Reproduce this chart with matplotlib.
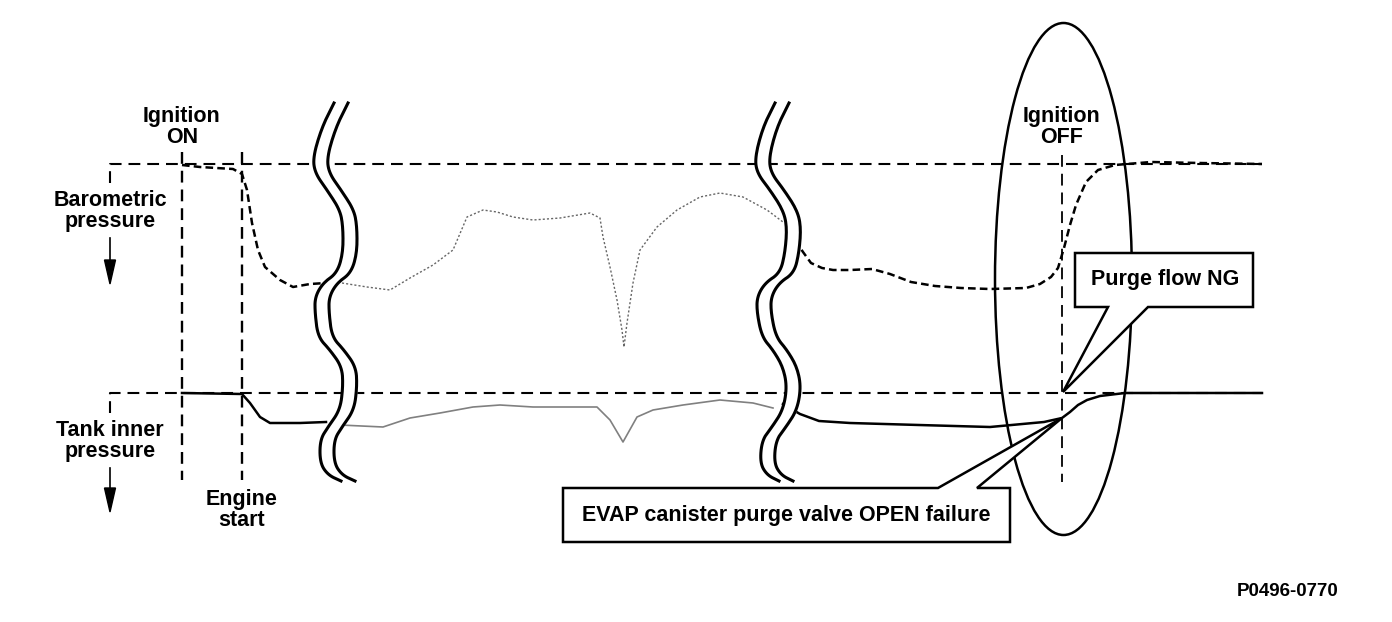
import numpy as np
import matplotlib.pyplot as plt
from matplotlib.patches import Ellipse, Polygon

plt.rcParams['font.family'] = ['Liberation Sans', 'DejaVu Sans']
plt.rcParams['lines.scale_dashes'] = False

# ─────────────────────────────────────────
# Traces (x = time, y = pressure, screen units)
# ─────────────────────────────────────────
baro_t1 = [182, 200, 233, 242, 247, 252, 258, 265, 280, 293, 310, 326]
baro_p1 = [165, 167, 169, 174, 190, 223, 250, 267, 280, 287, 284, 283]

baro_t2 = [342, 367, 390, 410, 433, 453, 467, 483, 497, 513, 533, 560, 590, 600,
           603, 610, 617, 622, 624, 627, 633, 640, 657, 677, 700, 720, 743, 767, 783]
baro_p2 = [283, 287, 290, 278, 265, 250, 217, 210, 212, 217, 220, 218, 213, 218,
           237, 267, 300, 330, 347, 323, 283, 250, 227, 210, 197, 193, 197, 210, 222]

baro_t3 = [795, 803, 811, 822, 833, 850, 872, 890, 911, 935, 961, 990, 1026, 1040,
           1051, 1058, 1064, 1070, 1076, 1086, 1098, 1115, 1151, 1200, 1262]
baro_p3 = [240, 252, 263, 268, 270, 270, 269, 274, 282, 286, 288, 289, 288, 284,
           277, 268, 248, 225, 205, 182, 170, 165, 162, 163, 164]

tank_t1 = [182, 242, 250, 260, 270, 300, 326]
tank_p1 = [393, 394, 403, 417, 423, 423, 422]

tank_t2 = [340, 383, 410, 440, 473, 500, 533, 597, 610, 623, 637, 653, 683, 720, 753, 773]
tank_p2 = [425, 427, 418, 413, 407, 405, 407, 407, 420, 442, 417, 410, 405, 400, 403, 408]

tank_t3 = [783, 800, 819, 850, 919, 990, 1044, 1062, 1070, 1078, 1087, 1100, 1125, 1262]
tank_p3 = [404, 414, 421, 423, 425, 427, 422, 418, 412, 405, 400, 396, 393, 393]

# break marks (centre line of the double wave)
wave_y = [103, 127, 157, 173, 190, 210, 227, 253, 273, 283, 297, 313, 337, 350,
          367, 387, 410, 427, 440, 463, 475, 481]
wave1_x = [341, 329, 320, 322, 334, 347, 350, 350, 344, 330, 322, 322, 325, 337,
           349, 350, 347, 335, 327, 327, 335, 348]
wave2_x = [782, 770, 762, 764, 777, 790, 794, 792, 787, 772, 764, 764, 769, 780,
           790, 794, 790, 779, 769, 767, 774, 786]

event_t = [182, 242, 1062]          # Ignition ON, Engine start, Ignition OFF
baro_ref, tank_ref = 164, 393


def chaikin(x, y, n=3):
    p = np.column_stack([x, y]).astype(float)
    for _ in range(n):
        q = 0.75 * p[:-1] + 0.25 * p[1:]
        r = 0.25 * p[:-1] + 0.75 * p[1:]
        p = np.vstack([p[:1], np.column_stack([q, r]).reshape(-1, 2), p[-1:]])
    return p[:, 0], p[:, 1]


fig = plt.figure(figsize=(13.92, 6.22), dpi=100)
ax = fig.add_axes([0, 0, 1, 1])
ax.set_xlim(0, 1392)
ax.set_ylim(622, 0)
ax.axis('off')

ref_dash = (0, (8.5, 5))
# reference levels
ax.plot([110, 110, 1262], [183, baro_ref, baro_ref], color='k', lw=1.5, ls=ref_dash, zorder=1)
ax.plot([110, 110, 1262], [413, tank_ref, tank_ref], color='k', lw=1.5, ls=ref_dash, zorder=1)

# event markers
ax.plot([event_t[0]] * 2, [152, 480], color='k', lw=1.7, ls=ref_dash, zorder=1)
ax.plot([event_t[1]] * 2, [152, 480], color='k', lw=1.7, ls=ref_dash, zorder=1)
ax.plot([event_t[2]] * 2, [155, 482], color='k', lw=1.3, ls=ref_dash, zorder=1)

# barometric trace
curve_dash = (0, (5.5, 3))
ax.plot(baro_t1, baro_p1, color='k', lw=1.8, ls=curve_dash, zorder=2)
ax.plot(baro_t2, baro_p2, color='0.4', lw=1.0, ls=(0, (1.5, 1.5)), zorder=2)
ax.plot(baro_t3, baro_p3, color='k', lw=1.8, ls=curve_dash, zorder=2)

# tank trace
ax.plot(tank_t1, tank_p1, color='k', lw=1.8, zorder=2)
ax.plot(tank_t2, tank_p2, color='0.5', lw=1.2, zorder=2)
ax.plot(tank_t3, tank_p3, color='k', lw=1.8, zorder=2)

# break marks
for wx in (wave1_x, wave2_x):
    sx, sy = chaikin(wx, wave_y)
    ax.fill_betweenx(sy, sx - 7, sx + 7, color='white', zorder=4)
    ax.plot(sx - 7, sy, color='k', lw=2.2, zorder=5)
    ax.plot(sx + 7, sy, color='k', lw=2.2, zorder=5)

# down arrows
for y0, y1 in ((238, 284), (468, 512)):
    ax.plot([110, 110], [y0, y1 - 20], color='k', lw=1.2, zorder=3)
    ax.add_patch(Polygon([[104.5, y1 - 24], [115.5, y1 - 24], [110, y1]],
                         closed=True, color='k', zorder=3))

# highlight ellipse
ax.add_patch(Ellipse((1063.5, 279), 137, 512, fill=False, lw=1.8, ec='k', zorder=6))

# callouts
ax.add_patch(Polygon([[1108, 307], [1075, 307], [1075, 253], [1253, 253],
                      [1253, 307], [1148, 307], [1063, 392]],
                     closed=True, fc='white', ec='k', lw=1.8, zorder=7))
ax.add_patch(Polygon([[938, 488], [563, 488], [563, 542], [1010, 542],
                      [1010, 488], [977, 488], [1062, 418]],
                     closed=True, fc='white', ec='k', lw=1.8, zorder=7))

txt = dict(fontsize=15.5, fontweight='bold', ha='center', va='center',
           linespacing=1.0, zorder=8)
ax.text(event_t[0], 127, 'Ignition\nON', **txt)
ax.text(event_t[1], 510, 'Engine\nstart', **txt)
ax.text(event_t[2], 127, 'Ignition\nOFF', **txt)
ax.text(110, 211, 'Barometric\npressure', **txt)
ax.text(110, 441, 'Tank inner\npressure', **txt)
ax.text(1165, 280, 'Purge flow NG', **txt)
ax.text(786, 516, 'EVAP canister purge valve OPEN failure', **txt)
ax.text(1288, 592, 'P0496-0770', fontsize=13.5, fontweight='bold',
        ha='center', va='center')

plt.savefig('out.png', dpi=100)
